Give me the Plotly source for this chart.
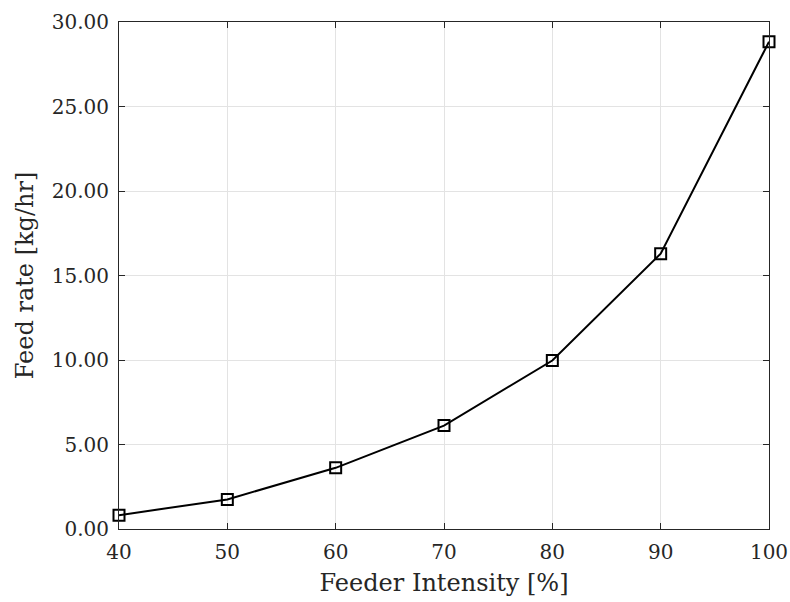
import plotly.graph_objects as go

intensity = [40, 50, 60, 70, 80, 90, 100]
feed_rate = [0.82, 1.75, 3.62, 6.12, 9.97, 16.29, 28.83]

x_ticks = [40, 50, 60, 70, 80, 90, 100]
y_ticks = [0, 5, 10, 15, 20, 25, 30]
y_tick_labels = ["0.00", "5.00", "10.00", "15.00", "20.00", "25.00", "30.00"]

FONT = "DejaVu Serif"
AX = "#262626"

fig = go.Figure()
fig.add_trace(go.Scatter(
    x=intensity, y=feed_rate, mode="lines+markers",
    line=dict(color="black", width=2),
    marker=dict(symbol="square-open", size=11, color="black",
                line=dict(width=2, color="black")),
    showlegend=False, cliponaxis=False,
))

axis_common = dict(
    showline=True, linecolor=AX, linewidth=1, mirror="ticks",
    ticks="inside", ticklen=6, tickcolor=AX, tickwidth=1,
    showgrid=True, gridcolor="#e3e3e3", gridwidth=1,
    zeroline=False, automargin=False, ticklabelstandoff=5,
    tickfont=dict(family=FONT, size=20, color=AX),
)

fig.update_layout(
    width=790, height=602,
    margin=dict(l=119, r=21, t=22, b=73),
    paper_bgcolor="white", plot_bgcolor="white",
    font=dict(family=FONT, color=AX),
    xaxis=dict(range=[40, 100], tickvals=x_ticks,
               title=dict(text="Feeder Intensity [%]", font=dict(family=FONT, size=24, color=AX), standoff=11),
               **axis_common),
    yaxis=dict(range=[0, 30], tickvals=y_ticks, ticktext=y_tick_labels,
               title=dict(text="Feed rate [kg/hr]", font=dict(family=FONT, size=24, color=AX), standoff=11),
               **axis_common),
)

fig.write_html("out.html")
